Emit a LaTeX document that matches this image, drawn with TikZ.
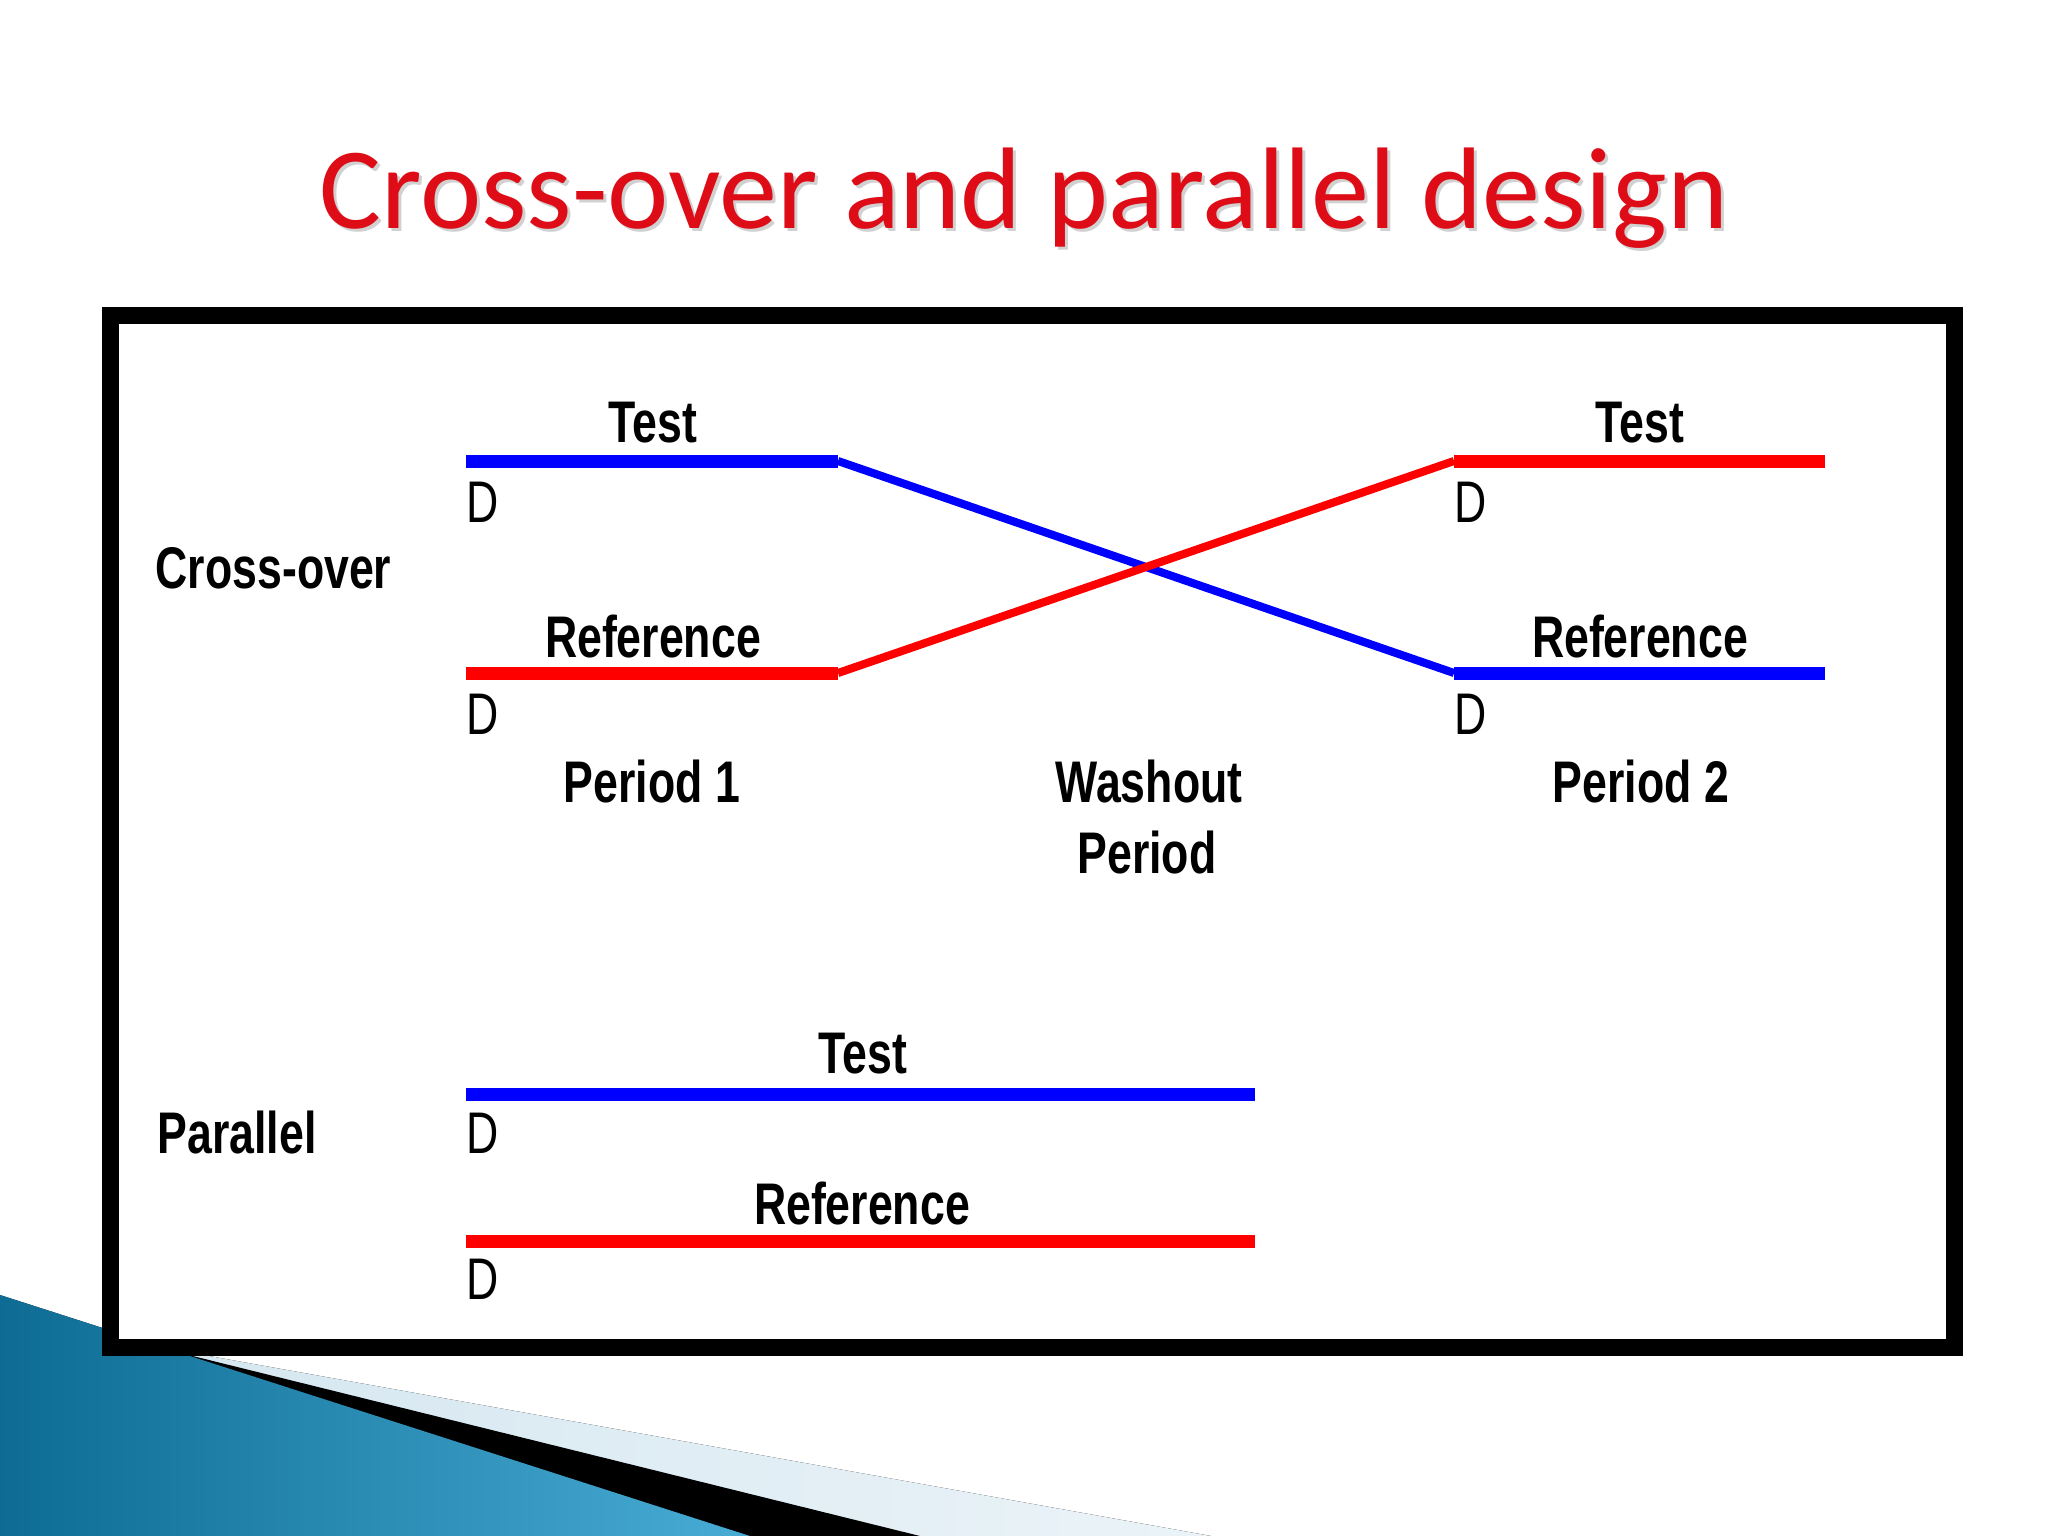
\documentclass[tikz,border=0pt]{standalone}
\usepackage{fontspec}
\setmainfont{Liberation Sans}
\newfontfamily\titlefont{Carlito}
\usepackage{graphicx}
\definecolor{barblue}{RGB}{0,0,255}
\definecolor{barred}{RGB}{255,0,0}
\definecolor{titlered}{RGB}{222,12,22}
\definecolor{tealdark}{RGB}{14,108,148}
\definecolor{teallight}{RGB}{72,172,212}
\definecolor{paleblue}{RGB}{210,229,239}
\newcommand\narrowtxt[1]{\scalebox{0.76}[1]{#1}}
\begin{document}
\begin{tikzpicture}[x=0.01cm,y=-0.01cm,
  lbl/.style={font=\fontsize{16.7}{20}\selectfont\bfseries, inner sep=0pt, anchor=base},
  dlbl/.style={font=\fontsize{16.7}{20}\selectfont, inner sep=0pt, anchor=base west},
  sidelbl/.style={font=\fontsize{16.7}{20}\selectfont\bfseries, inner sep=0pt, anchor=base west},
  bluebar/.style={line width=3.7pt, draw=barblue},
  redbar/.style={line width=3.7pt, draw=barred},
  bluecross/.style={line width=2.3pt, draw=barblue},
  redcross/.style={line width=2.3pt, draw=barred},
  frame/.style={line width=4.84pt, draw=black, fill=white}
]
\useasboundingbox (0,0) rectangle (2048,1536);
\fill[white] (0,0) rectangle (2048,1536);
% corner decoration
\fill[left color=paleblue, right color=paleblue!45!white] (120,1340) -- (1211,1536) -- (0,1536) -- cycle;
\fill[black] (120,1338) -- (920,1536) -- (0,1536) -- cycle;
\fill[left color=tealdark, right color=teallight] (0,1295) -- (750,1536) -- (0,1536) -- cycle;
% title
\node[font=\titlefont\fontsize{33}{40}\selectfont, text=black!18, anchor=base, inner sep=0pt] (titleshadow) at (1027,231) {Cross-over and parallel design};
\node[font=\titlefont\fontsize{33}{40}\selectfont, text=titlered, anchor=base, inner sep=0pt] (title) at (1024,228) {Cross-over and parallel design};
% frame
\draw[frame] (110.5,315.5) rectangle (1954.5,1347.5);
% coordinates
\coordinate (tl1) at (466,461);  \coordinate (tl2) at (838,461);
\coordinate (rl1) at (466,673);  \coordinate (rl2) at (838,673);
\coordinate (tr1) at (1454,461); \coordinate (tr2) at (1825,461);
\coordinate (rr1) at (1454,673); \coordinate (rr2) at (1825,673);
\coordinate (pt1) at (466,1094); \coordinate (pt2) at (1255,1094);
\coordinate (pr1) at (466,1241); \coordinate (pr2) at (1255,1241);
% cross-over lines
\draw[bluecross] (tl2) -- (rr1);
\draw[redcross] (rl2) -- (tr1);
\draw[bluebar] (tl1) -- (tl2);
\draw[redbar] (rl1) -- (rl2);
\draw[redbar] (tr1) -- (tr2);
\draw[bluebar] (rr1) -- (rr2);
% parallel lines
\draw[bluebar] (pt1) -- (pt2);
\draw[redbar] (pr1) -- (pr2);
% labels
\node[sidelbl] (crossover) at (155,588) {\narrowtxt{Cross-over}};
\node[sidelbl] (parallel) at (157,1153) {\narrowtxt{Parallel}};
\node[lbl] (testL) at (653,442) {\narrowtxt{Test}};
\node[lbl] (testR) at (1640,442) {\narrowtxt{Test}};
\node[lbl] (refL) at (653,657) {\narrowtxt{Reference}};
\node[lbl] (refR) at (1640,657) {\narrowtxt{Reference}};
\node[dlbl] (d1) at (466,522) {\narrowtxt{D}};
\node[dlbl] (d2) at (466,734) {\narrowtxt{D}};
\node[dlbl] (d3) at (1454,522) {\narrowtxt{D}};
\node[dlbl] (d4) at (1454,734) {\narrowtxt{D}};
\node[lbl] (per1) at (652,802) {\narrowtxt{Period 1}};
\node[lbl] (per2) at (1641,802) {\narrowtxt{Period 2}};
\node[lbl] (wash) at (1149,802) {\narrowtxt{Washout}};
\node[lbl] (washper) at (1147,873) {\narrowtxt{Period}};
\node[lbl] (ptest) at (863,1073) {\narrowtxt{Test}};
\node[lbl] (pref) at (862,1224) {\narrowtxt{Reference}};
\node[dlbl] (d5) at (466,1153) {\narrowtxt{D}};
\node[dlbl] (d6) at (466,1299) {\narrowtxt{D}};
\end{tikzpicture}
\end{document}
